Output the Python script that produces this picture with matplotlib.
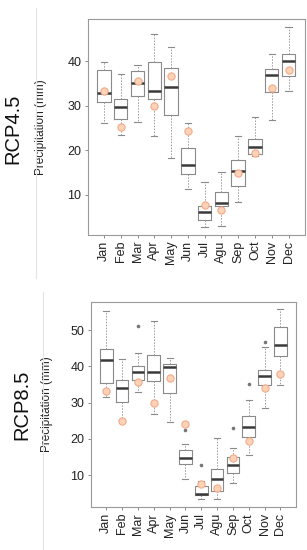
import matplotlib
matplotlib.use("Agg")
import matplotlib.pyplot as plt
from matplotlib.lines import Line2D

months = ['Jan', 'Feb', 'Mar', 'Apr', 'May', 'Jun', 'Jul', 'Agu', 'Sep', 'Oct', 'Nov', 'Dec']

# RCP4.5 box statistics
r45_whislo = [26.1, 23.3, 26.4, 23.1, 18.3, 11.2, 2.8, 2.9, 8.3, 18.6, 26.8, 33.4]
r45_q1 = [30.9, 27.0, 32.2, 31.5, 27.9, 14.7, 4.2, 7.4, 12.0, 19.2, 33.0, 36.6]
r45_med = [32.9, 29.6, 35.2, 33.4, 34.1, 16.7, 6.1, 8.1, 15.2, 20.6, 36.8, 40.0]
r45_q3 = [38.1, 31.4, 37.8, 39.9, 38.5, 20.5, 7.5, 10.6, 17.7, 22.6, 38.3, 41.6]
r45_whishi = [39.8, 37.1, 39.1, 46.2, 43.3, 26.1, 12.9, 15.1, 23.2, 27.4, 41.6, 47.7]
r45_fliers = [[], [], [], [], [], [], [], [], [], [], [], []]
r45_obs = [33.3, 25.1, 35.6, 30.0, 36.6, 24.2, 7.7, 6.5, 14.8, 19.4, 34.0, 38.0]

# RCP8.5 box statistics
r85_whislo = [31.6, 25.3, 33.0, 26.8, 24.7, 8.8, 3.4, 3.4, 7.9, 15.5, 28.6, 34.8]
r85_q1 = [35.4, 30.2, 36.2, 35.9, 32.7, 13.1, 4.4, 5.7, 10.7, 20.6, 34.8, 42.7]
r85_med = [41.7, 33.9, 38.5, 38.3, 39.8, 14.7, 4.8, 8.8, 12.7, 23.3, 37.4, 45.9]
r85_q3 = [44.8, 36.2, 40.1, 43.0, 40.5, 16.8, 7.0, 11.6, 15.0, 26.3, 39.0, 50.7]
r85_whishi = [55.3, 41.9, 43.6, 52.6, 42.4, 18.6, 8.5, 20.2, 17.5, 30.6, 45.2, 55.7]
r85_fliers = [[], [], [51.1], [], [], [22.4], [12.8], [], [22.9], [35.1], [46.6], []]
r85_obs = [33.2, 25.0, 35.7, 30.0, 36.7, 24.2, 7.5, 6.5, 14.7, 19.3, 34.1, 38.0]

plt.rcParams['font.family'] = ['Liberation Sans', 'DejaVu Sans']

W, H = 307, 550
fig = plt.figure(figsize=(W / 100, H / 100), dpi=100)


def px_rect(l, t, r, b):
    return [l / W, 1 - b / H, (r - l) / W, (b - t) / H]


def panel(ax, whislo, q1, med, q3, whishi, fliers, obs, ylim, yticks):
    stats = []
    for i in range(len(months)):
        stats.append(dict(med=med[i], q1=q1[i], q3=q3[i], whislo=whislo[i],
                          whishi=whishi[i], fliers=fliers[i], label=months[i]))
    pos = list(range(1, len(months) + 1))
    ax.bxp(stats, positions=pos, widths=0.8, capwidths=0.38, manage_ticks=False,
           boxprops=dict(color='#8a8a8a', linewidth=0.8),
           medianprops=dict(color='#3a3a3a', linewidth=1.8, solid_capstyle='butt'),
           whiskerprops=dict(color='#9a9a9a', linewidth=0.7, linestyle=(0, (1.5, 1.5))),
           capprops=dict(color='#8a8a8a', linewidth=0.8),
           flierprops=dict(marker='o', markersize=1.6, markerfacecolor='#777777',
                           markeredgecolor='#777777', linestyle='none'))
    ax.plot(pos, obs, linestyle='none', marker='o', markersize=5.2,
            markerfacecolor='#fcd3b6', markeredgecolor='#f3a98a',
            markeredgewidth=0.8, zorder=5)
    ax.set_xlim(0.02, 12.98)
    ax.set_ylim(*ylim)
    ax.set_xticks(pos)
    ax.set_xticklabels(months, rotation=90, fontsize=9, color='#222222')
    ax.set_yticks(yticks)
    ax.set_yticklabels([str(v) for v in yticks], fontsize=9, color='#222222')
    ax.tick_params(axis='both', direction='out', length=2.5, width=0.7,
                   color='#8a8a8a', pad=2)
    for s in ax.spines.values():
        s.set_color('#9a9a9a')
        s.set_linewidth(0.8)
    ax.set_ylabel('Precipitation (mm)', fontsize=8.5, color='#222222')


ax1 = fig.add_axes(px_rect(87.5, 19, 305, 234.5))
panel(ax1, r45_whislo, r45_q1, r45_med, r45_q3, r45_whishi, r45_fliers, r45_obs,
      (1.0, 49.5), [10, 20, 30, 40])
ax1.yaxis.set_label_coords(-0.186, 0.5)

ax2 = fig.add_axes(px_rect(90.7, 301.7, 296, 506.7))
panel(ax2, r85_whislo, r85_q1, r85_med, r85_q3, r85_whishi, r85_fliers, r85_obs,
      (1.3, 57.8), [10, 20, 30, 40, 50])
ax2.yaxis.set_label_coords(-0.184, 0.5)

# panel frame lines
fig.add_artist(Line2D([35.5 / W, 35.5 / W], [1 - 8 / H, 1 - 278 / H],
                      transform=fig.transFigure, color='#e4e4e4', linewidth=0.8))
fig.add_artist(Line2D([43 / W, 43 / W], [1 - 292 / H, 0],
                      transform=fig.transFigure, color='#e4e4e4', linewidth=0.8))

fig.text(13 / W, 1 - 129 / H, 'RCP4.5', rotation=90, fontsize=14.5,
         ha='center', va='center', color='#111111')
fig.text(22 / W, 1 - 405 / H, 'RCP8.5', rotation=90, fontsize=14.5,
         ha='center', va='center', color='#111111')

fig.savefig('out.png', dpi=100)
